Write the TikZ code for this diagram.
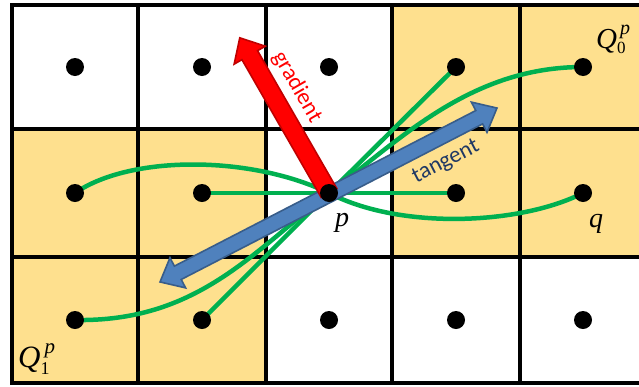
\documentclass[tikz,border=0pt]{standalone}
\usepackage{fontspec}
\newfontfamily\calib{Carlito}
\newfontfamily\tms{Liberation Serif}
\definecolor{cellY}{RGB}{254,224,142}
\definecolor{lineG}{RGB}{0,176,80}
\definecolor{blueF}{RGB}{79,129,189}
\definecolor{blueD}{RGB}{56,93,138}
\definecolor{redF}{RGB}{255,0,0}
\definecolor{redD}{RGB}{192,0,0}
\definecolor{navyT}{RGB}{31,56,100}
\pgfdeclarelayer{bg}
\pgfsetlayers{bg,main}
\begin{document}
\begin{tikzpicture}[x=1pt,y=-1pt,
  dot/.style={circle,fill=black,inner sep=0pt,minimum size=18pt},
  gridline/.style={line width=4pt,black,line join=miter},
  cell/.style={fill=cellY},
  link/.style={lineG,line width=4.5pt},
  arrowbody/.style={line width=1.6pt,line join=miter},
  lbl/.style={inner sep=0pt},
  italbl/.style={inner sep=0pt,font=\tms\itshape\fontsize{28}{28}\selectfont}]
\useasboundingbox (0,0) rectangle (639,386);
% dots
\node[dot] (d00) at (75,67) {};
\node[dot] (d10) at (202,67) {};
\node[dot] (d20) at (329,67) {};
\node[dot] (d30) at (456,67) {};
\node[dot] (d40) at (583,67) {};
\node[dot] (d01) at (75,193) {};
\node[dot] (d11) at (202,193) {};
\node[dot] (p)   at (329,193) {};
\node[dot] (d31) at (456,193) {};
\node[dot] (d41) at (583,193) {};
\node[dot] (d02) at (75,320) {};
\node[dot] (d12) at (202,320) {};
\node[dot] (d22) at (329,320) {};
\node[dot] (d32) at (456,320) {};
\node[dot] (d42) at (583,320) {};
% labels
\node[italbl] (plbl) at (342,223) {p};
\node[italbl] (qlbl) at (596,224) {q};
\node[lbl,anchor=base west,font=\tms\itshape\fontsize{29}{29}\selectfont] (Q0) at (596,48)
  {Q\rlap{\kern3pt\raisebox{14pt}{\fontsize{20}{20}\selectfont p}}\raisebox{-5pt}{\upshape\fontsize{17}{17}\selectfont 0}};
\node[lbl,anchor=base west,font=\tms\itshape\fontsize{31}{31}\selectfont] (Q1) at (18,367)
  {Q\rlap{\kern4pt\raisebox{14pt}{\fontsize{21}{21}\selectfont p}}\raisebox{-7pt}{\upshape\fontsize{18}{18}\selectfont 1}};
\node[lbl,rotate=-60,text=redF,font=\calib\fontsize{23}{23}\selectfont] (glbl) at (297,87) {gradient};
\node[lbl,rotate=27.3,text=navyT,font=\calib\fontsize{23}{23}\selectfont] (tlbl) at (446,162) {tangent};

\begin{pgfonlayer}{bg}
  % cells
  \fill[cellY] (392,5) rectangle (639,129);
  \fill[cellY] (12,129) rectangle (266,257);
  \fill[cellY] (392,129) rectangle (639,257);
  \fill[cellY] (12,257) rectangle (266,383);
  % grid
  \draw[gridline] (639,5) -- (12,5) -- (12,383) -- (639,383);
  \draw[gridline] (12,129) -- (639,129);
  \draw[gridline] (12,257) -- (639,257);
  \foreach \gx in {138,266,392,520} \draw[gridline] (\gx,5) -- (\gx,383);
  % green links
  \draw[link] (d01.center) .. controls (130,155) and (250,155) .. (p.center);
  \draw[link] (d11.center) -- (p.center);
  \draw[link] (p.center) -- (d30.center);
  \draw[link] (p.center) .. controls (400,140) and (470,67) .. (d40.center);
  \draw[link] (p.center) -- (d31.center);
  \draw[link] (p.center) .. controls (400,230) and (520,225) .. (d41.center);
  \draw[link] (p.center) .. controls (250,255) and (195,322) .. (d02.center);
  \draw[link] (p.center) -- (d12.center);
  % tangent arrow
  \begin{scope}[shift={(328.5,195)},rotate=27.3]
    \filldraw[arrowbody,fill=blueF,draw=blueD]
      (-189.6,0) -- (-169.6,17) -- (-169.6,7.5) -- (169.6,7.5) -- (169.6,17) -- (189.6,0)
      -- (169.6,-17) -- (169.6,-7.5) -- (-169.6,-7.5) -- (-169.6,-17) -- cycle;
  \end{scope}
  % gradient arrow
  \begin{scope}[shift={(p.center)},rotate=119.9]
    \filldraw[arrowbody,fill=redF,draw=redD]
      (0,9) -- (159,9) -- (159,18) -- (179,0) -- (159,-18) -- (159,-9) -- (0,-9) -- cycle;
  \end{scope}
\end{pgfonlayer}
\end{tikzpicture}
\end{document}
